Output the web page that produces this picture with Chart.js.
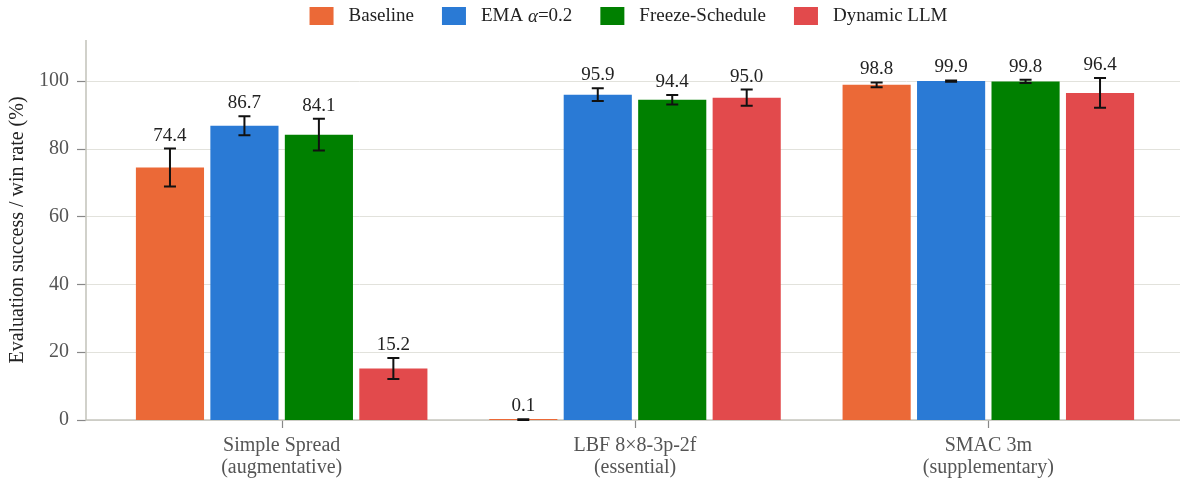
<!DOCTYPE html>
<html>
<head>
<meta charset="utf-8">
<script src="https://cdn.jsdelivr.net/npm/chart.js@4.4.0/dist/chart.umd.min.js"></script>
<style>
  html, body { margin: 0; padding: 0; background: #fff; }
  #wrap { width: 1182px; height: 481px; }
</style>
</head>
<body>
<div id="wrap"><canvas id="myChart"></canvas></div>
<script>
// values
const categories = [['Simple Spread', '(augmentative)'], ['LBF 8×8-3p-2f', '(essential)'], ['SMAC 3m', '(supplementary)']];
const seriesNames = ['Baseline', 'EMA α=0.2', 'Freeze-Schedule', 'Dynamic LLM'];
const baseline = [74.4, 0.1, 98.8];
const baselineErr = [5.6, 0.1, 0.7];
const ema = [86.7, 95.9, 99.9];
const emaErr = [2.8, 1.9, 0.2];
const freeze = [84.1, 94.4, 99.8];
const freezeErr = [4.7, 1.4, 0.5];
const dynamic = [15.2, 95.0, 96.4];
const dynamicErr = [3.1, 2.4, 4.4];
const yTicks = [0, 20, 40, 60, 80, 100];
const colors = ['#EB6937', '#2A7AD5', '#008000', '#E24A4C'];

const serif = '"Liberation Serif", "DejaVu Serif", serif';
const errors = [baselineErr, emaErr, freezeErr, dynamicErr];

// grid, axis lines and tick marks reach a bit past the plot area
const framePlugin = {
  id: 'frame',
  beforeDatasetsDraw(chart) {
    const { ctx, chartArea, scales: { x, y } } = chart;
    const left = chartArea.left - 19, right = chartArea.right + 15;
    ctx.save();
    ctx.strokeStyle = '#e2e2dc';
    ctx.lineWidth = 1;
    yTicks.forEach(t => {
      const py = Math.round(y.getPixelForValue(t)) + 0.5;
      ctx.beginPath(); ctx.moveTo(left, py); ctx.lineTo(right, py); ctx.stroke();
    });
    ctx.strokeStyle = '#888';
    ctx.lineWidth = 1.2;
    yTicks.forEach(t => {
      const py = Math.round(y.getPixelForValue(t)) + 0.5;
      ctx.beginPath(); ctx.moveTo(left - 9, py); ctx.lineTo(left, py); ctx.stroke();
    });
    categories.forEach((c, i) => {
      const px = Math.round(x.getPixelForValue(i)) + 0.5;
      ctx.beginPath(); ctx.moveTo(px, chartArea.bottom); ctx.lineTo(px, chartArea.bottom + 8); ctx.stroke();
    });
    ctx.strokeStyle = '#c6c6be';
    ctx.lineWidth = 1.6;
    ctx.beginPath();
    ctx.moveTo(left, chartArea.top);
    ctx.lineTo(left, chartArea.bottom);
    ctx.lineTo(right, chartArea.bottom);
    ctx.stroke();
    ctx.restore();
  },
  afterDatasetsDraw(chart) {
    const { ctx, scales: { y } } = chart;
    ctx.save();
    chart.data.datasets.forEach((ds, i) => {
      const meta = chart.getDatasetMeta(i);
      meta.data.forEach((bar, j) => {
        const v = ds.data[j], e = errors[i][j];
        const top = y.getPixelForValue(v + e), bot = y.getPixelForValue(Math.max(v - e, 0));
        ctx.strokeStyle = '#111';
        ctx.lineWidth = 2;
        ctx.beginPath();
        ctx.moveTo(bar.x, top); ctx.lineTo(bar.x, bot);
        ctx.moveTo(bar.x - 6, top); ctx.lineTo(bar.x + 6, top);
        ctx.moveTo(bar.x - 6, bot); ctx.lineTo(bar.x + 6, bot);
        ctx.stroke();
        ctx.fillStyle = '#222';
        ctx.font = '19px ' + serif;
        ctx.textAlign = 'center';
        ctx.textBaseline = 'alphabetic';
        ctx.fillText(v.toFixed(1), bar.x, top - 8);
      });
    });
    ctx.restore();
  }
};

// legend row, with the alpha in italics
const keyPlugin = {
  id: 'keyRow',
  afterDraw(chart) {
    const { ctx, chartArea } = chart;
    const plain = '19px ' + serif, ital = 'italic 19px ' + serif;
    ctx.save();
    const pieces = chart.data.datasets.map(ds => ds.label.split(/(α)/).filter(s => s.length));
    const widths = pieces.map(p => p.reduce((w, s) => {
      ctx.font = s === 'α' ? ital : plain;
      return w + ctx.measureText(s).width;
    }, 0));
    const total = widths.reduce((a, w) => a + 24 + 15 + w, 0) + 28 * (widths.length - 1);
    let cx = (chartArea.left + chartArea.right) / 2 - 19 / 2 - total / 2 + 3;
    ctx.textBaseline = 'middle';
    ctx.textAlign = 'left';
    pieces.forEach((p, i) => {
      ctx.fillStyle = colors[i];
      ctx.fillRect(cx, 7, 24, 18);
      let tx = cx + 24 + 15;
      ctx.fillStyle = '#222';
      p.forEach(s => {
        ctx.font = s === 'α' ? ital : plain;
        ctx.fillText(s, tx, 16.5);
        tx += ctx.measureText(s).width;
      });
      cx += 24 + 15 + widths[i] + 28;
    });
    ctx.restore();
  }
};

const seriesValues = [baseline, ema, freeze, dynamic];
const ctx = document.getElementById('myChart').getContext('2d');
const chart = new Chart(ctx, {
  type: 'bar',
  data: {
    labels: categories,
    datasets: seriesNames.map((name, i) => ({
      label: name,
      data: seriesValues[i],
      backgroundColor: colors[i],
      borderWidth: 0,
      categoryPercentage: 0.843,
      barPercentage: 0.915,
      minBarLength: 1
    }))
  },
  options: {
    responsive: true,
    maintainAspectRatio: false,
    animation: false,
    layout: { padding: { top: 40, right: 17, left: 0, bottom: 0 } },
    plugins: { legend: { display: false }, tooltip: { enabled: false } },
    scales: {
      x: {
        grid: { display: false, drawTicks: false },
        border: { display: false },
        afterFit(scale) { scale.height = 61; },
        ticks: {
          color: '#555',
          padding: 15,
          maxRotation: 0,
          autoSkip: false,
          font: { family: serif, size: 20, lineHeight: 1.1 }
        }
      },
      y: {
        min: 0,
        max: 112,
        grid: { display: false, drawTicks: false },
        border: { display: false },
        afterFit(scale) {
          scale.width = 105;
          scale.paddingTop = 0;
          scale.paddingBottom = 0;
        },
        afterBuildTicks(scale) { scale.ticks = yTicks.map(v => ({ value: v })); },
        ticks: {
          color: '#555',
          padding: 36,
          font: { family: serif, size: 20 }
        },
        title: {
          display: true,
          text: 'Evaluation success / win rate (%)',
          color: '#222',
          padding: { top: 6, bottom: 0 },
          font: { family: serif, size: 20, lineHeight: 1.2 }
        }
      }
    }
  },
  plugins: [framePlugin, keyPlugin]
});
</script>
</body>
</html>
